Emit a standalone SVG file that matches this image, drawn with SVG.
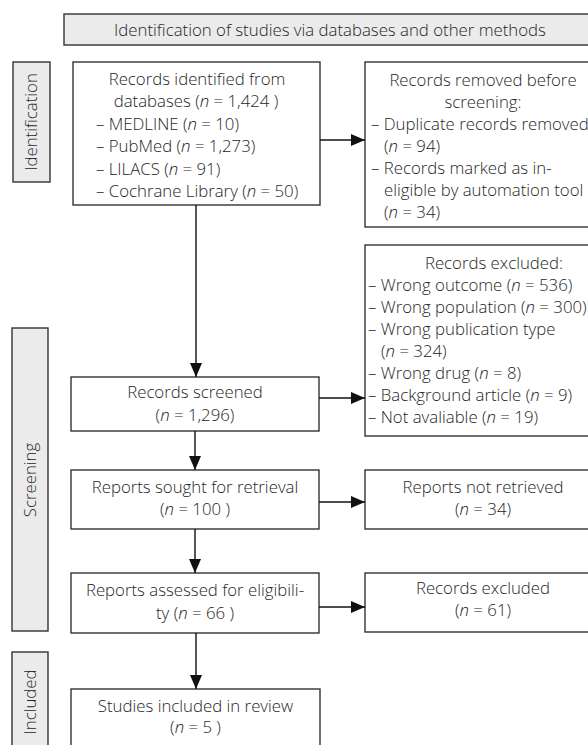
<svg xmlns="http://www.w3.org/2000/svg" width="588" height="745" viewBox="0 0 588 745">
<style>
.box{fill:#ffffff;stroke:#333333;stroke-width:1.4}
.side{fill:#ebebeb;stroke:#333333;stroke-width:1.4}
text{font-family:"Open Sans","Noto Sans","Liberation Sans",sans-serif;font-size:16.8px;font-weight:300;fill:#262626}
.c{text-anchor:middle}
.l{text-anchor:start}
.i{font-style:italic}
.ln{stroke:#111111;stroke-width:1.4;fill:none}
</style>
<defs>
<marker id="ah" viewBox="0 0 14 12" refX="14" refY="6" markerWidth="14" markerHeight="12" markerUnits="userSpaceOnUse" orient="auto">
<path d="M0,0 L14,6 L0,12 Z" fill="#111111"/>
</marker>
</defs>

<g id="title">
<rect class="side" x="64" y="14" width="540" height="31"/>
<text class="c" x="330" y="36">Identification of studies via databases and other methods</text>
</g>

<g id="label-identification">
<rect class="side" x="13" y="62" width="37" height="120"/>
<text class="c" transform="translate(37,122) rotate(-90)">Identification</text>
</g>
<g id="label-screening">
<rect class="side" x="12" y="328" width="36" height="303"/>
<text class="c" transform="translate(36,480) rotate(-90)">Screening</text>
</g>
<g id="label-included">
<rect class="side" x="12" y="652" width="36" height="110"/>
<text class="c" transform="translate(36,702) rotate(-90)">Included</text>
</g>

<g id="records-identified">
<rect class="box" x="73" y="62" width="247" height="143"/>
<text class="c" x="197" y="85">Records identified from</text>
<text class="c" x="196" y="107.4">databases (<tspan class="i">n</tspan> = 1,424 )</text>
<text class="l" x="96" y="129.8">– MEDLINE (<tspan class="i">n</tspan> = 10)</text>
<text class="l" x="96" y="152.2">– PubMed (<tspan class="i">n</tspan> = 1,273)</text>
<text class="l" x="96" y="174.6">– LILACS (<tspan class="i">n</tspan> = 91)</text>
<text class="l" x="96" y="197">– Cochrane Library (<tspan class="i">n</tspan> = 50)</text>
</g>

<g id="records-removed">
<rect class="box" x="365" y="62" width="240" height="165"/>
<text class="c" x="483" y="86">Records removed before</text>
<text class="c" x="483" y="108">screening:</text>
<text class="l" x="371" y="130">– Duplicate records removed</text>
<text class="l" x="384" y="152">(<tspan class="i">n</tspan> = 94)</text>
<text class="l" x="371" y="174">– Records marked as in-</text>
<text class="l" x="384" y="196">eligible by automation tool</text>
<text class="l" x="384" y="218">(<tspan class="i">n</tspan> = 34)</text>
</g>

<g id="records-excluded">
<rect class="box" x="365" y="245" width="240" height="191"/>
<text class="c" x="494" y="269">Records excluded:</text>
<text class="l" x="368" y="291">– Wrong outcome (<tspan class="i">n</tspan> = 536)</text>
<text class="l" x="368" y="313">– Wrong population (<tspan class="i">n</tspan> = 300)</text>
<text class="l" x="368" y="335">– Wrong publication type</text>
<text class="l" x="381" y="357">(<tspan class="i">n</tspan> = 324)</text>
<text class="l" x="368" y="379">– Wrong drug (<tspan class="i">n</tspan> = 8)</text>
<text class="l" x="368" y="401">– Background article (<tspan class="i">n</tspan> = 9)</text>
<text class="l" x="368" y="423">– Not avaliable (<tspan class="i">n</tspan> = 19)</text>
</g>

<g id="records-screened">
<rect class="box" x="71" y="377" width="248" height="54"/>
<text class="c" x="195" y="398">Records screened</text>
<text class="c" x="195" y="420.5">(<tspan class="i">n</tspan> = 1,296)</text>
</g>

<g id="reports-sought">
<rect class="box" x="71" y="470" width="248" height="59"/>
<text class="c" x="195" y="493">Reports sought for retrieval</text>
<text class="c" x="195" y="515">(<tspan class="i">n</tspan> = 100 )</text>
</g>

<g id="reports-not-retrieved">
<rect class="box" x="365" y="470" width="240" height="59"/>
<text class="c" x="483" y="493">Reports not retrieved</text>
<text class="c" x="483" y="515">(<tspan class="i">n</tspan> = 34)</text>
</g>

<g id="reports-assessed">
<rect class="box" x="71" y="573" width="248" height="60"/>
<text class="c" x="195" y="596">Reports assessed for eligibili-</text>
<text class="c" x="195" y="619">ty (<tspan class="i">n</tspan> = 66 )</text>
</g>

<g id="records-excluded-61">
<rect class="box" x="365" y="573" width="240" height="59"/>
<text class="c" x="483" y="594">Records excluded</text>
<text class="c" x="483" y="616">(<tspan class="i">n</tspan> = 61)</text>
</g>

<g id="studies-included">
<rect class="box" x="71" y="689" width="249" height="80"/>
<text class="c" x="195.5" y="712">Studies included in review</text>
<text class="c" x="195.5" y="733">(<tspan class="i">n</tspan> = 5 )</text>
</g>

<g id="connectors">
<line class="ln" x1="320" y1="140" x2="365" y2="140" marker-end="url(#ah)"/>
<line class="ln" x1="196" y1="205" x2="196" y2="377" marker-end="url(#ah)"/>
<line class="ln" x1="319" y1="398" x2="365" y2="398" marker-end="url(#ah)"/>
<line class="ln" x1="195" y1="431" x2="195" y2="470" marker-end="url(#ah)"/>
<line class="ln" x1="319" y1="502" x2="365" y2="502" marker-end="url(#ah)"/>
<line class="ln" x1="195" y1="529" x2="195" y2="573" marker-end="url(#ah)"/>
<line class="ln" x1="319" y1="607" x2="365" y2="607" marker-end="url(#ah)"/>
<line class="ln" x1="196" y1="633" x2="196" y2="689" marker-end="url(#ah)"/>
</g>
</svg>
